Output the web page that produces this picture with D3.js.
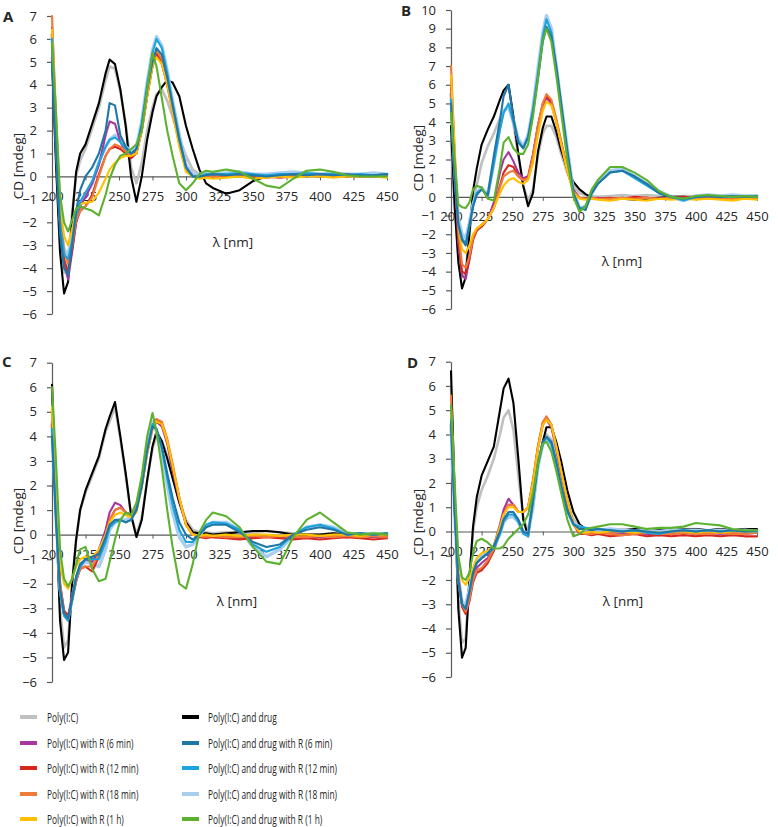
<!DOCTYPE html>
<html><head><meta charset="utf-8">
<script src="https://cdnjs.cloudflare.com/ajax/libs/d3/7.8.5/d3.min.js"></script>
<style>
html,body{margin:0;padding:0;background:#fff;}
svg{display:block;}
text{font-family:"Open Sans","DejaVu Sans",sans-serif;fill:#262626;}
</style></head>
<body>
<svg id="chart" width="778" height="827"></svg>
<script>
// ---------------- DATA ----------------
const wavelengths = [200,203,206,209,212,215,218,221,225,230,235,240,243,247,251,255,259,263,267,271,275,278,282,286,290,295,300,305,310,315,320,330,340,350,360,370,380,390,400,410,420,430,440,450];
const xTicks = [200,225,250,275,300,325,350,375,400,425,450];
const yTicksA = [-6,-5,-4,-3,-2,-1,0,1,2,3,4,5,6,7];
const yTicksB = [-6,-5,-4,-3,-2,-1,0,1,2,3,4,5,6,7,8,9,10];
const panelLabels = ["A","B","C","D"];
const seriesNames = ["Poly(I:C)","Poly(I:C) with R (6 min)","Poly(I:C) with R (12 min)","Poly(I:C) with R (18 min)","Poly(I:C) with R (1 h)",
  "Poly(I:C) and drug","Poly(I:C) and drug with R (6 min)","Poly(I:C) and drug with R (12 min)","Poly(I:C) and drug with R (18 min)","Poly(I:C) and drug with R (1 h)"];
const seriesColors = ["#c0c0c0","#a5379f","#d9261c","#f07a3a","#ffc000","#000000","#1f77a6","#1aa3dc","#a9cdef","#5cb230"];

// Panel A
const A_polyIC   = [5.2,1.0,-2.8,-4.2,-3.9,-1.6,0.0,0.7, 1.2,2.1,3.0,4.2,4.8,4.7,3.7,2.3,0.4,-0.3, 0.6,2.0,3.0,3.6,3.8,3.3,2.6,1.7,0.9,0.3, 0.1,0.05,0.0,0.05,0.05,0.0,0.05,0.0,0.05,0.1, 0.1,0.05,0.05,0.1,0.05,0.05];
const A_R6       = [5.7,1.5,-2.0,-3.8,-4.5,-3.3,-2.0,-1.3, -0.9,-0.3,0.5,1.8,2.4,2.3,1.5,1.1,0.9,1.1, 2.0,3.5,4.8,5.3,4.9,4.0,3.0,1.6,0.4,0.0, -0.05,0.0,0.05,0.0,0.05,0.0,-0.05,0.0,0.05,0.0, 0.05,0.0,0.05,0.0,0.0,0.05];
const A_R12      = [6.5,2.0,-1.8,-3.6,-4.2,-3.2,-2.0,-1.5, -1.3,-0.8,0.1,0.9,1.2,1.3,1.2,1.0,0.8,1.0, 2.0,3.5,4.9,5.4,5.0,4.0,2.8,1.4,0.3,0.0, -0.05,0.0,0.0,0.0,0.05,-0.05,0.0,-0.05,0.0,0.05, 0.0,0.05,0.0,0.05,0.0,0.0];
const A_R18      = [7.0,2.5,-1.5,-3.3,-3.8,-3.0,-1.9,-1.5, -1.3,-0.9,0.0,0.9,1.2,1.4,1.3,1.1,0.9,1.0, 2.0,3.6,5.0,5.5,5.1,4.1,2.9,1.5,0.3,0.0, 0.0,0.05,0.0,0.05,0.0,0.05,0.0,0.05,0.0,0.05, 0.05,0.0,0.05,0.0,0.05,0.0];
const A_R1h      = [6.4,2.5,-1.2,-2.6,-3.0,-2.3,-1.6,-1.2, -1.15,-1.1,-0.7,-0.1,0.3,0.6,0.8,0.9,0.9,1.0, 2.0,3.5,4.8,5.2,4.9,4.0,2.8,1.3,0.2,0.0, -0.1,-0.05,-0.1,-0.05,0.0,-0.1,-0.05,0.0,-0.05,0.0, 0.0,-0.05,0.0,0.0,0.0,-0.05];
const A_drug     = [5.2,0.5,-3.3,-5.1,-4.6,-1.8,0.2,1.0, 1.4,2.3,3.2,4.5,5.1,4.9,3.8,2.2,0.0,-1.1, 0.0,1.6,2.8,3.5,3.9,4.2,4.1,3.5,2.2,1.2, 0.3,-0.3,-0.5,-0.75,-0.6,-0.2,0.0,0.0,0.05,0.1, 0.05,0.1,0.1,0.05,0.05,0.1];
const A_drugR6   = [5.0,1.0,-2.5,-4.0,-4.3,-3.0,-1.5,-0.6, 0.0,0.4,1.0,2.0,3.2,3.1,1.8,1.3,1.0,1.2, 2.2,3.8,5.0,5.6,5.3,4.3,3.1,1.6,0.4,0.0, 0.0,0.05,0.1,0.05,0.1,0.05,0.0,0.05,0.1,0.05, 0.1,0.05,0.1,0.05,0.05,0.1];
const A_drugR12  = [6.0,1.8,-2.0,-3.4,-3.6,-2.8,-1.7,-1.1, -0.7,-0.2,0.6,1.3,1.6,1.7,1.5,1.2,1.0,1.2, 2.3,4.0,5.4,6.0,5.6,4.5,3.2,1.7,0.4,0.0, 0.0,0.1,0.1,0.1,0.15,0.1,0.05,0.1,0.1,0.15, 0.1,0.1,0.05,0.1,0.05,0.1];
const A_drugR18  = [6.2,2.0,-1.8,-3.2,-3.4,-2.6,-1.6,-1.2, -0.8,-0.3,0.6,1.3,1.6,1.8,1.6,1.3,1.1,1.3, 2.4,4.1,5.5,6.1,5.7,4.6,3.3,1.8,0.5,0.1, 0.1,0.15,0.1,0.15,0.2,0.1,0.1,0.15,0.2,0.15, 0.1,0.15,0.1,0.1,0.15,0.1];
const A_drugR1h  = [5.8,2.8,-0.8,-2.0,-2.4,-1.9,-1.4,-1.3, -1.4,-1.5,-1.7,-0.8,-0.1,0.5,0.9,1.0,1.2,1.4, 2.0,3.8,5.4,4.8,3.4,2.0,0.9,-0.3,-0.6,-0.3, 0.1,0.25,0.2,0.3,0.2,-0.1,-0.4,-0.5,-0.1,0.25, 0.3,0.2,0.05,0.0,0.0,0.0];

// Panel B
const B_polyIC   = [3.0,-0.5,-3.0,-4.3,-4.0,-2.0,-0.3,0.6, 1.8,2.7,3.4,4.2,4.6,4.8,3.9,2.2,0.6,-0.2, 0.4,2.2,3.4,3.8,3.8,3.2,2.3,1.3,0.6,0.2, 0.1,0.05,0.0,0.05,0.1,0.05,0.1,0.05,0.0,0.05, 0.05,0.1,0.05,0.0,0.05,0.05];
const B_R6       = [6.0,1.5,-2.5,-4.2,-4.4,-3.3,-2.2,-1.8, -1.5,-1.2,-0.3,1.3,2.0,2.4,1.9,1.3,1.0,1.1, 2.3,3.8,4.9,5.3,5.0,4.0,2.9,1.5,0.4,-0.05, -0.1,-0.1,-0.05,-0.1,-0.05,-0.1,-0.05,-0.1,0.0,-0.05, -0.1,0.0,-0.05,-0.1,0.0,-0.05];
const B_R12      = [6.5,2.0,-2.2,-4.0,-4.1,-3.4,-2.3,-1.8, -1.6,-1.2,-0.6,0.6,1.3,1.7,1.6,1.1,0.9,1.0, 2.2,3.8,5.0,5.4,5.1,4.1,2.9,1.4,0.3,-0.05, -0.1,-0.05,-0.1,-0.05,-0.1,0.0,-0.05,-0.1,-0.05,0.0, -0.05,-0.1,0.0,-0.05,0.0,-0.05];
const B_R18      = [7.0,2.5,-1.8,-3.6,-3.8,-3.2,-2.2,-1.7, -1.5,-1.2,-0.6,0.5,1.1,1.3,1.4,1.1,0.9,1.0, 2.2,3.8,5.0,5.5,5.2,4.2,3.0,1.5,0.3,-0.05, -0.1,-0.05,-0.1,-0.1,-0.05,-0.1,-0.05,-0.1,-0.05,-0.1, -0.05,-0.1,-0.05,-0.1,-0.05,-0.1];
const B_R1h      = [6.5,2.5,-1.5,-2.8,-3.0,-2.6,-2.0,-1.7, -1.5,-1.2,-0.6,0.2,0.6,0.9,1.0,0.8,0.7,0.9, 1.8,3.3,4.6,5.1,4.9,4.0,2.8,1.4,0.2,-0.1, -0.15,-0.1,-0.15,-0.2,-0.1,-0.15,-0.2,-0.1,-0.15,-0.1, -0.15,-0.1,-0.15,-0.2,-0.1,-0.15];
const B_drug     = [3.8,-0.5,-3.5,-4.9,-4.3,-2.0,0.3,1.5, 2.8,3.6,4.3,5.2,5.7,6.0,4.3,2.3,0.6,-0.5, 0.2,2.4,3.7,4.3,4.3,3.5,2.5,1.5,0.8,0.4, 0.15,-0.05,-0.1,-0.15,-0.1,-0.15,-0.1,-0.05,0.0,0.0, -0.05,0.0,0.0,0.05,0.05,0.0];
const B_drugR6   = [5.0,1.0,-1.5,-2.3,-2.6,-1.6,-0.5,0.1, 0.4,0.1,2.2,4.1,5.4,6.0,4.2,2.9,2.6,3.2, 4.5,6.3,8.3,9.1,8.6,7.0,5.0,2.5,0.2,-0.6, -0.7,0.2,0.7,1.3,1.4,1.1,0.7,0.2,0.0,-0.1, 0.0,0.05,0.0,0.05,0.0,0.05];
const B_drugR12  = [5.2,1.2,-1.4,-2.2,-2.5,-1.5,-0.5,0.2, 0.4,0.0,1.8,3.6,4.5,5.0,4.0,3.0,2.6,3.2, 4.7,6.6,8.6,9.5,8.8,6.8,4.8,2.4,0.2,-0.7, -0.5,0.2,0.7,1.3,1.4,1.0,0.6,0.2,0.0,-0.2, 0.0,0.05,0.0,0.0,0.05,0.0];
const B_drugR18  = [5.5,1.5,-1.2,-2.0,-2.2,-1.4,-0.4,0.2, 0.5,0.1,1.8,3.8,4.6,4.8,4.1,3.1,2.7,3.3, 4.8,6.8,8.8,9.7,9.0,7.0,5.0,2.6,0.3,-0.6, -0.5,0.2,0.8,1.4,1.5,1.1,0.7,0.3,0.0,-0.2, 0.05,0.1,0.05,0.1,0.05,0.05];
const B_drugR1h  = [4.5,2.0,-0.4,-0.55,-0.6,-0.3,0.4,0.6, 0.5,-0.1,-0.2,1.6,2.9,3.2,2.6,2.3,2.3,2.8, 4.3,6.3,8.4,9.0,8.3,6.5,4.5,2.0,0.0,-0.8, -0.5,0.4,0.9,1.6,1.6,1.3,0.9,0.3,0.0,-0.1, 0.05,0.1,0.05,0.0,0.05,0.0];

// Panel C
const C_polyIC   = [6.0,1.0,-3.0,-4.6,-4.3,-2.0,-0.2,1.0, 1.7,2.4,3.1,4.2,4.6,5.2,3.9,2.4,0.8,0.0, 0.7,2.2,3.5,4.0,3.8,3.2,2.4,1.4,0.6,0.2, 0.1,0.1,0.05,0.1,0.1,0.05,0.15,0.1,0.05,0.0, 0.0,0.05,0.0,0.05,0.0,0.05];
const C_R6       = [4.6,1.0,-2.2,-3.3,-3.5,-2.5,-1.8,-1.3, -1.0,-1.1,-0.6,0.2,0.9,1.3,1.2,0.9,0.8,1.0, 2.0,3.3,4.3,4.6,4.4,3.7,2.6,1.4,0.4,0.0, -0.1,-0.05,-0.1,-0.1,-0.15,-0.1,-0.05,-0.1,-0.15,-0.1, -0.1,-0.05,-0.1,-0.05,-0.1,-0.05];
const C_R12      = [4.5,1.0,-2.0,-3.1,-3.3,-2.6,-1.9,-1.4, -1.3,-1.5,-0.9,0.0,0.6,1.0,1.1,0.9,0.8,1.0, 2.0,3.4,4.4,4.7,4.5,3.8,2.8,1.5,0.4,0.0, -0.1,-0.15,-0.1,-0.15,-0.2,-0.15,-0.1,-0.15,-0.2,-0.15, -0.2,-0.15,-0.1,-0.15,-0.2,-0.15];
const C_R18      = [5.0,1.2,-2.0,-3.2,-3.4,-2.7,-1.9,-1.4, -1.3,-1.3,-0.8,0.0,0.6,1.0,1.1,0.9,0.8,1.0, 2.0,3.4,4.4,4.7,4.6,3.9,2.9,1.5,0.4,0.0, -0.05,-0.1,-0.05,-0.1,-0.1,-0.05,-0.1,-0.05,-0.1,-0.1, -0.05,-0.1,-0.05,-0.1,-0.05,-0.1];
const C_R1h      = [5.2,1.5,-1.2,-2.0,-2.2,-1.8,-1.3,-1.0, -0.9,-0.9,-0.6,0.0,0.5,0.8,0.9,0.8,0.7,0.9, 1.9,3.3,4.3,4.6,4.5,3.8,2.8,1.5,0.4,0.0, -0.05,0.0,-0.05,0.0,-0.05,0.0,0.0,-0.05,0.0,0.0, -0.05,0.0,0.0,-0.05,0.0,0.0];
const C_drug     = [6.1,1.0,-3.5,-5.1,-4.8,-2.0,-0.2,1.0, 1.8,2.5,3.2,4.3,4.8,5.4,4.0,2.5,0.8,-0.1, 0.6,2.2,3.6,4.2,3.8,3.1,2.3,1.3,0.5,0.1, 0.05,0.05,0.0,0.05,0.1,0.15,0.15,0.1,0.0,0.0, 0.0,0.05,0.0,0.0,0.05,0.0];
const C_drugR6   = [4.0,0.5,-2.2,-3.2,-3.4,-2.6,-1.7,-1.2, -1.0,-0.9,-0.8,-0.1,0.4,0.6,0.6,0.5,0.6,1.0, 2.0,3.4,4.4,4.3,3.6,2.5,1.5,0.5,0.0,-0.2, 0.0,0.3,0.4,0.4,0.1,-0.3,-0.5,-0.4,0.0,0.2, 0.3,0.2,0.0,0.05,0.0,0.05];
const C_drugR12  = [4.3,0.7,-2.3,-3.3,-3.5,-2.7,-1.8,-1.3, -1.0,-1.0,-1.0,-0.3,0.3,0.5,0.6,0.5,0.6,1.0, 2.0,3.5,4.5,4.3,3.5,2.3,1.2,0.2,-0.3,-0.3, 0.0,0.4,0.5,0.45,0.2,-0.4,-0.7,-0.5,0.0,0.3, 0.4,0.25,0.0,0.05,0.0,0.05];
const C_drugR18  = [4.5,0.8,-2.2,-3.2,-3.4,-2.6,-1.8,-1.3, -1.1,-1.2,-1.3,-0.6,0.2,0.5,0.6,0.6,0.7,1.1, 2.1,3.6,4.6,4.2,3.2,2.0,0.9,-0.1,-0.5,-0.4, -0.05,0.35,0.5,0.5,0.2,-0.5,-0.9,-0.6,-0.05,0.3, 0.4,0.3,0.05,0.0,0.05,0.0];
const C_drugR1h  = [6.0,3.0,-0.6,-1.8,-2.1,-1.8,-1.2,-0.6, -0.5,-1.4,-1.9,-1.8,-1.1,-0.2,0.6,0.9,0.8,1.3, 2.4,4.0,4.95,4.2,2.7,1.0,-0.5,-2.0,-2.2,-1.2, 0.1,0.6,0.9,0.75,0.3,-0.5,-1.1,-1.2,-0.1,0.6, 0.9,0.5,0.1,0.0,0.05,0.0];

// Panel D
const D_polyIC   = [6.0,1.2,-2.8,-4.6,-4.4,-2.0,0.0,1.0, 1.7,2.3,3.0,4.0,4.7,5.0,4.2,2.3,0.6,0.0, 0.9,2.6,3.7,4.0,3.8,3.1,2.2,1.1,0.5,0.2, 0.1,0.05,0.1,0.05,0.1,0.05,0.1,0.1,0.05,0.1, 0.1,0.05,0.1,0.05,0.1,0.05];
const D_R6       = [5.0,1.0,-2.0,-3.0,-3.2,-2.6,-1.9,-1.5, -1.3,-1.1,-0.6,0.3,0.9,1.35,1.1,0.8,0.8,1.0, 2.0,3.4,4.4,4.6,4.3,3.4,2.4,1.2,0.3,-0.05, -0.1,-0.05,-0.1,-0.05,-0.1,-0.05,-0.1,-0.15,-0.1,-0.05, -0.1,-0.05,-0.1,-0.05,-0.1,-0.05];
const D_R12      = [5.2,1.2,-2.0,-3.1,-3.4,-2.9,-2.1,-1.7, -1.6,-1.3,-0.8,0.1,0.7,1.1,1.1,0.8,0.8,1.0, 2.1,3.5,4.5,4.7,4.4,3.5,2.5,1.3,0.3,-0.1, -0.1,-0.15,-0.1,-0.2,-0.15,-0.1,-0.2,-0.15,-0.2,-0.15, -0.2,-0.15,-0.2,-0.15,-0.2,-0.2];
const D_R18      = [5.6,1.4,-1.8,-3.0,-3.3,-2.8,-2.0,-1.6, -1.5,-1.2,-0.7,0.1,0.7,1.1,1.1,0.8,0.8,1.0, 2.1,3.5,4.5,4.75,4.4,3.5,2.5,1.3,0.3,-0.05, -0.1,-0.1,-0.05,-0.1,-0.15,-0.1,-0.05,-0.1,-0.1,-0.05, -0.1,-0.1,-0.05,-0.1,-0.1,-0.05];
const D_R1h      = [5.0,1.5,-1.2,-2.0,-2.2,-1.9,-1.5,-1.1, -0.9,-0.8,-0.6,0.2,0.7,1.0,1.0,0.8,0.8,1.0, 2.0,3.4,4.4,4.6,4.4,3.5,2.5,1.3,0.3,0.0, -0.05,0.0,-0.05,0.0,0.0,-0.05,0.0,-0.05,0.0,0.0, -0.05,0.0,-0.05,0.0,0.0,0.0];
const D_drug     = [6.6,1.5,-3.2,-5.2,-4.8,-2.0,0.2,1.4, 2.3,2.9,3.5,5.0,5.9,6.3,5.3,3.0,0.5,-0.2, 1.4,2.8,3.7,4.3,4.3,3.7,2.9,1.7,0.8,0.3, 0.1,0.05,0.1,0.1,0.05,0.1,0.05,0.1,0.05,0.1, 0.1,0.05,0.1,0.05,0.1,0.1];
const D_drugR6   = [4.5,0.8,-2.0,-3.0,-3.2,-2.5,-1.7,-1.3, -1.1,-0.9,-0.6,0.0,0.5,0.8,0.8,0.5,0.0,-0.1, 1.3,2.8,3.7,3.9,3.7,2.9,1.9,0.9,0.3,0.1, 0.1,0.05,0.1,0.05,0.0,0.05,0.0,-0.05,0.0,0.05, 0.0,0.05,0.0,0.05,0.0,0.05];
const D_drugR12  = [4.6,0.8,-2.0,-3.0,-3.2,-2.5,-1.7,-1.3, -1.1,-0.9,-0.7,-0.1,0.4,0.7,0.7,0.4,-0.1,-0.2, 1.2,2.7,3.6,3.9,3.6,2.8,1.8,0.8,0.3,0.2, 0.15,0.1,0.1,0.05,0.0,0.05,-0.05,-0.1,0.0,0.05, 0.0,0.05,0.0,0.05,0.0,0.0];
const D_drugR18  = [4.4,0.8,-1.9,-2.9,-3.0,-2.4,-1.6,-1.2, -1.0,-0.9,-0.7,-0.1,0.4,0.6,0.6,0.4,0.0,-0.1, 1.2,2.7,3.6,3.8,3.6,2.8,1.8,0.9,0.3,0.2, 0.1,0.1,0.05,0.1,0.05,0.0,0.05,0.0,0.05,0.05, 0.05,0.0,0.05,0.0,0.05,0.0];
const D_drugR1h  = [5.2,2.0,-1.0,-1.9,-2.0,-1.7,-0.9,-0.4, -0.3,-0.45,-0.7,-0.7,-0.6,-0.3,-0.1,0.1,0.3,0.7, 1.6,2.8,3.6,3.7,3.3,2.5,1.6,0.5,-0.2,-0.1, 0.1,0.15,0.2,0.3,0.3,0.2,0.1,0.15,0.15,0.2, 0.35,0.3,0.25,0.1,0.05,0.05];

// ---------------- LAYOUT ----------------
const panelData = {
  A:[A_polyIC,A_R6,A_R12,A_R18,A_R1h,A_drug,A_drugR6,A_drugR12,A_drugR18,A_drugR1h],
  B:[B_polyIC,B_R6,B_R12,B_R18,B_R1h,B_drug,B_drugR6,B_drugR12,B_drugR18,B_drugR1h],
  C:[C_polyIC,C_R6,C_R12,C_R18,C_R1h,C_drug,C_drugR6,C_drugR12,C_drugR18,C_drugR1h],
  D:[D_polyIC,D_R6,D_R12,D_R18,D_R1h,D_drug,D_drugR6,D_drugR12,D_drugR18,D_drugR1h]
};
const layout = {
  A:{x0:52,x1:387,yT:16,yB:314,ymax:7,ticks:yTicksA,lab:[3,22],cd:[18,166],lam:[233,247]},
  B:{x0:451,x1:757,yT:10,yB:309,ymax:10,ticks:yTicksB,lab:[401,16],cd:[418,158],lam:[622,266]},
  C:{x0:52,x1:387,yT:362.7,yB:682,ymax:7,ticks:yTicksA,lab:[2,367],cd:[18,521],lam:[237,606]},
  D:{x0:451,x1:757,yT:361.7,yB:677,ymax:7,ticks:yTicksA,lab:[407,368],cd:[418,522],lam:[623,606]}
};
const drawOrder = [0,5,8,1,2,3,4,7,6,9];
const widths = [2.6,2.1,2.1,2.1,2.1,2.1,2.1,2.1,3.4,2.1];

const svg = d3.select("#chart");
const axisColor = "#595959";

panelLabels.forEach(p=>{
  const L = layout[p];
  const x = d3.scaleLinear().domain([200,450]).range([L.x0,L.x1]);
  const y = d3.scaleLinear().domain([-6,L.ymax]).range([L.yB,L.yT]);
  const g = svg.append("g");

  const ya = g.append("g").attr("transform",`translate(${L.x0},0)`)
    .call(d3.axisLeft(y).tickValues(L.ticks).tickFormat(d3.format("d")).tickSize(5).tickPadding(10).tickSizeOuter(0));
  ya.select(".domain").attr("stroke",axisColor).attr("stroke-width",1.2);
  ya.selectAll(".tick line").attr("stroke",axisColor).attr("stroke-width",1.2);
  ya.selectAll("text").style("font-size","13px").attr("fill","#262626");

  const xa = g.append("g").attr("transform",`translate(0,${y(0)})`)
    .call(d3.axisBottom(x).tickValues(xTicks).tickSize(4).tickPadding(11).tickSizeOuter(0));
  xa.select(".domain").attr("stroke",axisColor).attr("stroke-width",1.2);
  xa.selectAll(".tick line").attr("stroke",axisColor).attr("stroke-width",1);
  xa.selectAll("text").style("font-size","13px").attr("fill","#262626");

  const line = d3.line().x((d,i)=>x(wavelengths[i])).y(d=>y(d)).curve(d3.curveLinear);
  drawOrder.forEach(si=>{
    g.append("path").datum(panelData[p][si])
      .attr("d",line).attr("fill","none")
      .attr("stroke",seriesColors[si]).attr("stroke-width",widths[si])
      .attr("stroke-linejoin","round").attr("stroke-linecap","round");
  });

  g.append("text").attr("x",L.lab[0]).attr("y",L.lab[1]).text(p)
    .style("font-size","15px").style("font-weight","bold").attr("fill","#000");
  g.append("text").attr("transform",`translate(${L.cd[0]+5},${L.cd[1]}) rotate(-90)`)
    .attr("text-anchor","middle").style("font-size","13.5px").text("CD [mdeg]");
  g.append("text").attr("x",L.lam[0]).attr("y",L.lam[1]).attr("text-anchor","middle")
    .style("font-size","13.5px").text("λ [nm]");
});

// legend
const legRowsY = [717,743,768,794,819];
const leg = svg.append("g");
const legTexts = [];
seriesNames.forEach((name,i)=>{
  const col = i<5?0:1, row = i%5;
  const lx = col===0?20:182, tx = col===0?47:208, yy = legRowsY[row];
  leg.append("line").attr("x1",lx).attr("x2",lx+17).attr("y1",yy).attr("y2",yy)
    .attr("stroke",seriesColors[i]).attr("stroke-width",4);
  const t = leg.append("text").attr("x",tx).attr("y",yy+4.5).style("font-size","13.5px").text(name);
  legTexts.push(t);
});
const refW = legTexts[8].node().getComputedTextLength();
const k = 129/refW;
legTexts.forEach(t=>{
  const w = t.node().getComputedTextLength();
  t.attr("textLength",(w*k).toFixed(1)).attr("lengthAdjust","spacingAndGlyphs");
});
</script>
</body></html>
